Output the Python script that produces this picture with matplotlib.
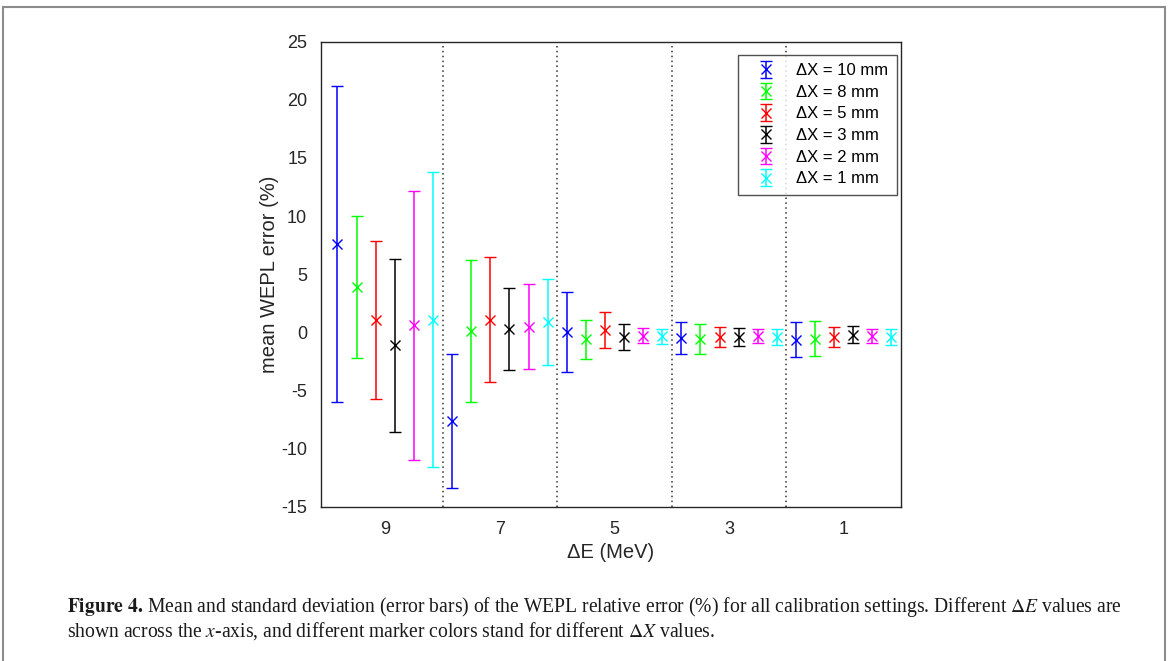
import numpy as np
import matplotlib
matplotlib.use("Agg")
import matplotlib.pyplot as plt
from matplotlib.lines import Line2D

plt.rcParams['font.family'] = ['Liberation Sans', 'DejaVu Sans']
plt.rcParams['mathtext.fontset'] = 'stix'
plt.rcParams['axes.unicode_minus'] = False

delta_e = [9, 7, 5, 3, 1]
delta_x_labels = ['ΔX = 10 mm', 'ΔX = 8 mm', 'ΔX = 5 mm',
                  'ΔX = 3 mm', 'ΔX = 2 mm', 'ΔX = 1 mm']
colors = ['#0000ff', '#00ff00', '#ff0000', '#000000', '#ff00ff', '#00ffff']

# mean WEPL error (%) per dX, one value per dE (9, 7, 5, 3, 1)
mean_10 = [7.6, -7.6, 0.05, -0.5, -0.65]
mean_8 = [3.9, 0.1, -0.6, -0.55, -0.55]
mean_5 = [1.1, 1.1, 0.2, -0.4, -0.4]
mean_3 = [-1.1, 0.3, -0.4, -0.4, -0.2]
mean_2 = [0.6, 0.5, -0.3, -0.3, -0.35]
mean_1 = [1.1, 0.85, -0.35, -0.4, -0.4]

# standard deviation
std_10 = [13.6, 5.75, 3.45, 1.35, 1.5]
std_8 = [6.1, 6.1, 1.7, 1.3, 1.5]
std_5 = [6.8, 5.35, 1.55, 0.9, 0.9]
std_3 = [7.45, 3.5, 1.1, 0.8, 0.75]
std_2 = [11.6, 3.65, 0.65, 0.6, 0.6]
std_1 = [12.65, 3.7, 0.67, 0.73, 0.7]

means = [mean_10, mean_8, mean_5, mean_3, mean_2, mean_1]
stds = [std_10, std_8, std_5, std_3, std_2, std_1]

fig = plt.figure(figsize=(11.7, 6.61), dpi=100)
ax = fig.add_axes([0.2744, 0.2334, 0.4957, 0.7035])

offsets = np.linspace(5 / 6, -5 / 6, 6)
handles = []
for i in range(6):
    x = np.array(delta_e) + offsets[i]
    h = ax.errorbar(x, means[i], yerr=stds[i], fmt='x', color=colors[i],
                    ecolor=colors[i], elinewidth=1.1, capsize=4.2, capthick=1.1,
                    markersize=7, markeredgewidth=1.0, label=delta_x_labels[i])
    handles.append(h)

for b in [8, 6, 4, 2]:
    ax.axvline(b, color='#333333', linestyle=(0, (1, 2.2)), linewidth=1.1, zorder=0)

ax.set_xlim(10.12, 0)
ax.set_ylim(-15, 25)
ax.set_xticks(delta_e)
ax.set_yticks(np.arange(-15, 26, 5))
ax.tick_params(axis='both', length=0, labelsize=13, colors='#262626')
ax.tick_params(axis='x', pad=10)
ax.tick_params(axis='y', pad=10)
for s in ax.spines.values():
    s.set_color('#262626')
    s.set_linewidth(1.0)

ax.set_xlabel('ΔE (MeV)', fontsize=14.5, color='#262626', labelpad=4)
ax.set_ylabel('mean WEPL error (%)', fontsize=14.5, color='#262626', labelpad=1.5)

leg = ax.legend(handles=handles, loc='upper right', bbox_to_anchor=(0.993, 0.972),
                fontsize=12, frameon=True, fancybox=False, edgecolor='#262626',
                labelspacing=0.4, handlelength=2.3, handletextpad=0.7,
                borderpad=0.5, borderaxespad=0)
leg.get_frame().set_linewidth(1.0)

# page frame
fig.add_artist(Line2D([3 / 1170, 3 / 1170], [0, 1 - 7 / 661], transform=fig.transFigure,
                      color='#8c8c8c', linewidth=1.5))
fig.add_artist(Line2D([1165 / 1170, 1165 / 1170], [0, 1 - 7 / 661], transform=fig.transFigure,
                      color='#8c8c8c', linewidth=1.5))
fig.add_artist(Line2D([3 / 1170, 1165 / 1170], [1 - 7 / 661, 1 - 7 / 661], transform=fig.transFigure,
                      color='#8c8c8c', linewidth=1.5))

cap1 = ('$\\mathbf{Figure\\ 4.}\\,$Mean and standard deviation (error bars) of the WEPL relative '
        'error (%) for all calibration settings. Different $\\Delta E$ values are')
cap2 = 'shown across the $x$-axis, and different marker colors stand for different $\\Delta X$ values.'
fig.text(67 / 1170, 1 - 607 / 661, cap1, fontsize=14.1, family='Liberation Serif',
         va='center', ha='left', color='#1a1a1a')
fig.text(67 / 1170, 1 - 631 / 661, cap2, fontsize=14.1, family='Liberation Serif',
         va='center', ha='left', color='#1a1a1a')

fig.savefig('out.png', dpi=100)
